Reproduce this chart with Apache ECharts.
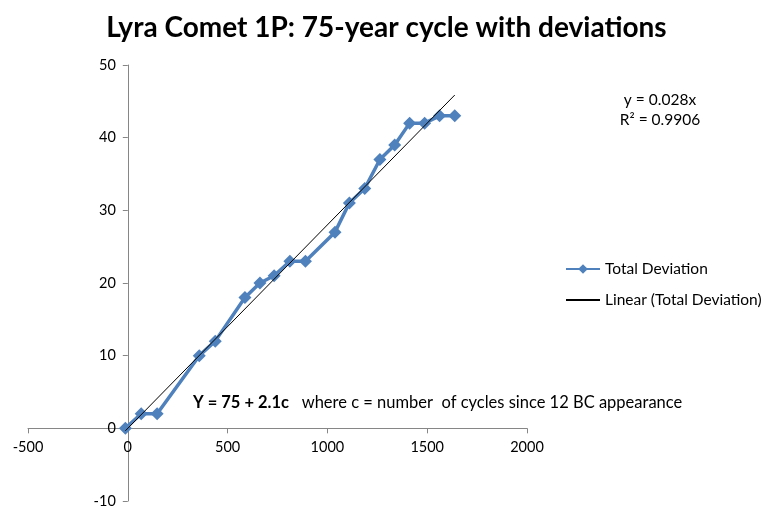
<!DOCTYPE html>
<html>
<head>
<meta charset="utf-8">
<script src="https://cdn.jsdelivr.net/npm/echarts@6/dist/echarts.min.js"></script>
<style>
  html, body { margin: 0; padding: 0; background: #fff; }
  #chart { width: 773px; height: 514px; }
</style>
</head>
<body>
<div id="chart"></div>
<script>
// years of each appearance (x) and accumulated deviation (y)
const years = [-12, 67, 147, 358, 438, 587, 662, 733, 812, 890, 1038, 1110, 1187, 1263, 1337, 1412, 1487, 1562, 1638];
const totalDeviation = [0, 2, 2, 10, 12, 18, 20, 21, 23, 23, 27, 31, 33, 37, 39, 42, 42, 43, 43];

// trendline shown on the chart: y = 0.028x, R² = 0.9906
const trendSlope = 0.028;
const trendR2 = 0.9906;

const xTicks = { min: -500, max: 2000, interval: 500 };
const yTicks = { min: -10, max: 50, interval: 10 };

const FONT = 'Lato, "Open Sans", sans-serif';

const points = years.map((x, i) => [x, totalDeviation[i]]);
const xMin = Math.min(...years);
const xMax = Math.max(...years);
const trendPoints = [[xMin, trendSlope * xMin], [xMax, trendSlope * xMax]];

const chart = echarts.init(document.getElementById('chart'), null, { renderer: 'canvas' });

const gridBox = { left: 28, right: 246, top: 65, bottom: 13 };

const option = {
  backgroundColor: '#fff',
  animation: false,
  title: {
    text: 'Lyra Comet 1P: 75-year cycle with deviations',
    left: 'center',
    top: 9,
    textStyle: { fontFamily: FONT, fontWeight: 'bold', fontSize: 28, color: '#000' }
  },
  grid: Object.assign({ containLabel: false, outerBoundsMode: 'none' }, gridBox),
  legend: {
    orient: 'vertical',
    left: 560,
    top: 256,
    itemGap: 15,
    itemWidth: 34,
    itemHeight: 12,
    textStyle: { fontFamily: FONT, fontSize: 15.5, color: '#000' },
    data: [
      'Total Deviation',
      { name: 'Linear (Total Deviation)', itemStyle: { color: 'rgba(0,0,0,0)', borderWidth: 0 } }
    ]
  },
  xAxis: {
    type: 'value',
    min: xTicks.min,
    max: xTicks.max,
    interval: xTicks.interval,
    axisLine: { onZero: false, lineStyle: { color: '#868686', width: 1 } },
    axisTick: { show: true, length: 5, lineStyle: { color: '#868686' } },
    axisLabel: { fontFamily: FONT, fontSize: 14.5, color: '#000', margin: 11, formatter: v => String(v) },
    splitLine: { show: false }
  },
  yAxis: {
    type: 'value',
    min: yTicks.min,
    max: yTicks.max,
    interval: yTicks.interval,
    axisLine: { show: true, onZero: false, lineStyle: { color: '#868686', width: 1 } },
    axisTick: { show: true, length: 5, lineStyle: { color: '#868686' } },
    axisLabel: { fontFamily: FONT, fontSize: 14.5, color: '#000', margin: 12, formatter: v => String(v) },
    splitLine: { show: false }
  },
  series: [
    {
      name: 'Total Deviation',
      type: 'line',
      data: points,
      symbol: 'diamond',
      symbolSize: 13,
      lineStyle: { color: '#4F81BD', width: 3.5 },
      itemStyle: { color: '#4F81BD' },
      z: 2
    },
    {
      name: 'Linear (Total Deviation)',
      type: 'line',
      data: trendPoints,
      symbol: 'none',
      lineStyle: { color: '#000', width: 1 },
      itemStyle: { color: '#000' },
      z: 3
    }
  ],
  graphic: [
    {
      type: 'text',
      x: 660,
      y: 90,
      style: {
        text: 'y = ' + trendSlope + 'x\nR² = ' + trendR2,
        fontFamily: FONT, fontSize: 15.5, fill: '#000',
        align: 'center', lineHeight: 20
      }
    },
    {
      type: 'text',
      left: 193,
      top: 394,
      style: {
        text: '{b|Y = 75 + 2.1c}   where c = number  of cycles since 12 BC appearance',
        fontFamily: FONT, fontSize: 16.5, fill: '#000',
        rich: { b: { fontFamily: FONT, fontSize: 16.5, fontWeight: 'bold', fill: '#000' } }
      }
    }
  ]
};

chart.setOption(option);

// move both axes (line, ticks and labels) onto the zero lines of the other axis
const origin = chart.convertToPixel({ gridIndex: 0 }, [0, 0]);
const chartH = chart.getHeight();
chart.setOption({
  xAxis: { offset: -((chartH - gridBox.bottom) - origin[1]) },
  yAxis: { offset: -(origin[0] - gridBox.left) }
});

window.addEventListener('resize', chart.resize);
</script>
</body>
</html>
